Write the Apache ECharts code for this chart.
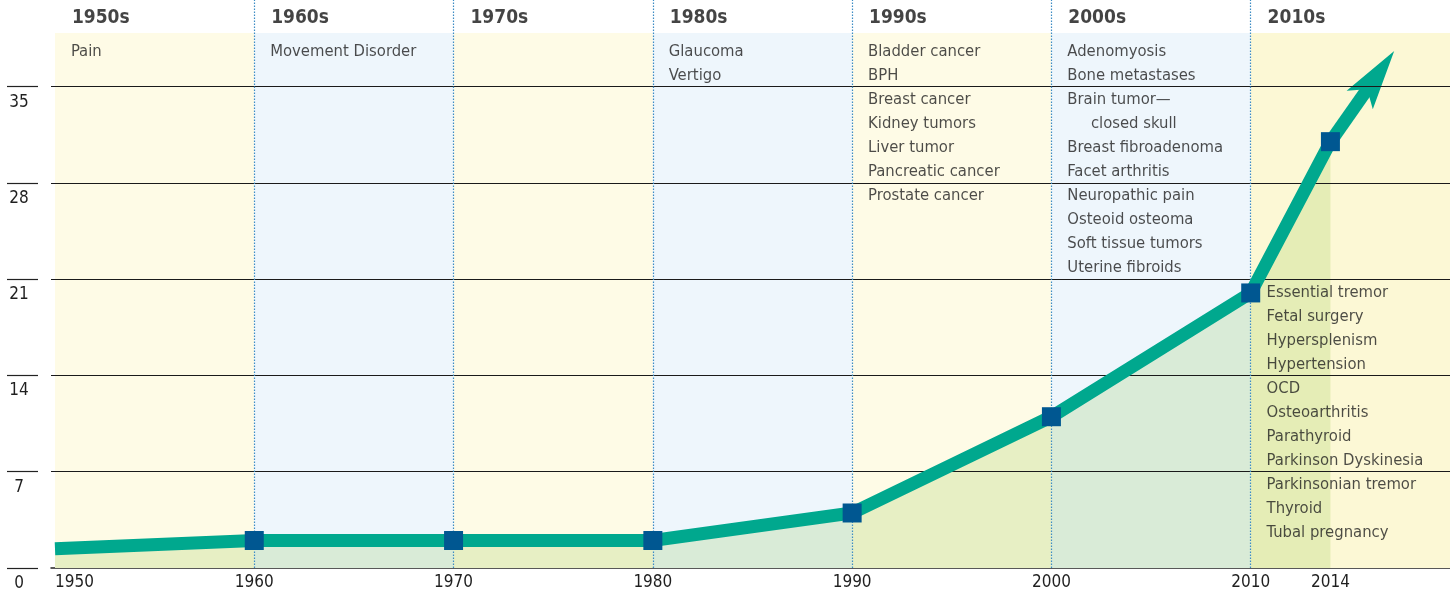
<!DOCTYPE html>
<html>
<head>
<meta charset="utf-8">
<style>
  html, body { margin: 0; padding: 0; background: #fff; }
  #chart { width: 1450px; height: 596px; }
</style>
<script src="https://cdn.jsdelivr.net/npm/echarts@6/dist/echarts.min.js"></script>
</head>
<body>
<div id="chart"></div>
<script>
// decades shown as bands with their new indications
const decades = ['1950s', '1960s', '1970s', '1980s', '1990s', '2000s', '2010s']
const decadeStart = [1950, 1960, 1970, 1980, 1990, 2000, 2010]
const indications = [
  ['Pain'],
  ['Movement Disorder'],
  [],
  ['Glaucoma', 'Vertigo'],
  ['Bladder cancer', 'BPH', 'Breast cancer', 'Kidney tumors', 'Liver tumor', 'Pancreatic cancer', 'Prostate cancer'],
  ['Adenomyosis', 'Bone metastases', 'Brain tumor\u2014', '     closed skull', 'Breast fibroadenoma', 'Facet arthritis',
   'Neuropathic pain', 'Osteoid osteoma', 'Soft tissue tumors', 'Uterine fibroids'],
  ['Essential tremor', 'Fetal surgery', 'Hypersplenism', 'Hypertension', 'OCD', 'Osteoarthritis', 'Parathyroid',
   'Parkinson Dyskinesia', 'Parkinsonian tremor', 'Thyroid', 'Tubal pregnancy']
]

// cumulative count line
const years = [1950, 1960, 1970, 1980, 1990, 2000, 2010, 2014]
const counts = [1.4, 2, 2, 2, 4, 11, 20, 31]
const arrowTip = [2017.2, 37.6] // where the arrow points to

const xTicks = [1950, 1960, 1970, 1980, 1990, 2000, 2010, 2014]
const yTicks = [0, 7, 14, 21, 28, 35]

const FONT = '"DejaVu Sans Condensed", "DejaVu Sans", sans-serif'
const TEXT = '#1f1f1f'
const TEAL = '#00a88e'
const NAVY = '#005791'
const BAND_TOP = 38.9
const bandColors = ['#fefbe6', '#eef6fc', '#fefbe6', '#eef6fc', '#fefbe6', '#eef6fc', '#fcf8d5']

const bandData = decadeStart.map((s, i) => [
  { xAxis: s, yAxis: 0, itemStyle: { color: bandColors[i] } },
  { xAxis: i < decadeStart.length - 1 ? decadeStart[i + 1] : 2020, yAxis: BAND_TOP }
])

const lineData = years.map((y, i) => ({
  value: [y, counts[i]],
  symbol: i === 0 ? 'none' : 'rect'
}))

const headerData = decades.map((d, i) => ({ value: [decadeStart[i] + 0.85, 39.95], name: d }))

const listData = indications.map((items, i) => {
  // 2010s list hangs off the 2010 marker, the others sit at the top of their band
  const is2010 = decades[i] === '2010s'
  const anchorY = is2010 ? counts[years.indexOf(2010)] : 38.39
  return { value: [decadeStart[i] + 0.8, anchorY], name: items.join('\n'), label: { offset: [0, is2010 ? -12 : 0] } }
}).filter(d => d.name)

function renderArrow(params, api) {
  const p0 = api.coord([api.value(0), api.value(1)])
  const p1 = api.coord([api.value(2), api.value(3)])
  const dx = p1[0] - p0[0], dy = p1[1] - p0[1]
  const len = Math.hypot(dx, dy)
  const ux = dx / len, uy = dy / len, nx = -uy, ny = ux
  const L = 60, W = 16, N = 47
  const bx = p1[0] - ux * L, by = p1[1] - uy * L
  const mx = p1[0] - ux * N, my = p1[1] - uy * N
  return {
    type: 'group',
    children: [
      { type: 'line', shape: { x1: p0[0], y1: p0[1], x2: p1[0] - ux * 40, y2: p1[1] - uy * 40 },
        style: { stroke: TEAL, lineWidth: 13 } },
      { type: 'polygon', shape: { points: [p1, [bx + nx * W, by + ny * W], [mx, my], [bx - nx * W, by - ny * W]] },
        style: { fill: TEAL } }
    ]
  }
}

const chart = echarts.init(document.getElementById('chart'))
chart.setOption({
  animation: false,
  backgroundColor: '#fff',
  textStyle: { fontFamily: FONT },
  grid: { left: 51, right: 0, top: 0, bottom: 28 },
  xAxis: {
    type: 'value', min: 1949.8, max: 2020,
    splitLine: { show: false },
    axisTick: { show: false },
    axisLine: { show: true, lineStyle: { color: '#222', width: 1.5 } },
    axisLabel: {
      customValues: xTicks, alignMinLabel: 'left', margin: 6, formatter: v => String(v),
      fontSize: 17, color: TEXT, fontFamily: FONT
    }
  },
  yAxis: {
    type: 'value', min: 0, max: 41.3, offset: 13,
    splitLine: { show: false },
    axisLine: { show: false },
    axisTick: { show: true, length: 31, customValues: yTicks, lineStyle: { color: '#222', width: 1.2 } },
    axisLabel: {
      customValues: yTicks, align: 'center', verticalAlign: 'top', margin: 19,
      padding: [7, 0, 0, 0], fontSize: 17, color: TEXT, fontFamily: FONT
    }
  },
  series: [
    {
      name: 'bands', type: 'line', data: [], z: 1, silent: true,
      markArea: { silent: true, data: bandData }
    },
    {
      name: 'area', type: 'line', z: 2, silent: true, symbol: 'none',
      data: years.map((y, i) => [y, counts[i]]),
      lineStyle: { width: 0 },
      areaStyle: { color: 'rgba(105,175,10,0.22)', origin: 'start' }
    },
    {
      name: 'rules', type: 'line', data: [], z: 3, silent: true,
      markLine: {
        silent: true, symbol: ['none', 'none'], label: { show: false },
        data: [
          ...yTicks.filter(v => v > 0).map(v => ({ yAxis: v, lineStyle: { color: '#1a1a1a', width: 1.2, type: 'solid' } })),
          ...decadeStart.slice(1).map(v => ({ xAxis: v, lineStyle: { color: '#3d8cc4', width: 1.2, type: [1.5, 1.5] } }))
        ]
      }
    },
    {
      name: 'arrow', type: 'custom', z: 4, silent: true, clip: false,
      data: [[years[years.length - 1], counts[counts.length - 1], arrowTip[0], arrowTip[1]]],
      renderItem: renderArrow
    },
    {
      name: 'count', type: 'line', z: 5, data: lineData,
      showAllSymbol: true, symbolSize: 19,
      lineStyle: { color: TEAL, width: 13, cap: 'butt', join: 'miter' },
      itemStyle: { color: NAVY, opacity: 1 }
    },
    {
      name: 'headers', type: 'scatter', z: 6, silent: true, clip: false,
      data: headerData, symbolSize: 0.1, itemStyle: { color: 'transparent' },
      label: {
        show: true, position: [0, 0], align: 'left', verticalAlign: 'middle',
        formatter: p => p.name, fontSize: 19, fontWeight: 'bold', color: '#151515', fontFamily: FONT
      }
    },
    {
      name: 'lists', type: 'scatter', z: 6, silent: true, clip: false,
      data: listData, symbolSize: 0.1, itemStyle: { color: 'transparent' },
      label: {
        show: true, position: [0, 0], align: 'left', verticalAlign: 'top',
        formatter: p => p.name, fontSize: 16.5, lineHeight: 24, color: TEXT, fontFamily: FONT
      }
    }
  ]
})
window.addEventListener('resize', () => chart.resize())
</script>
</body>
</html>
